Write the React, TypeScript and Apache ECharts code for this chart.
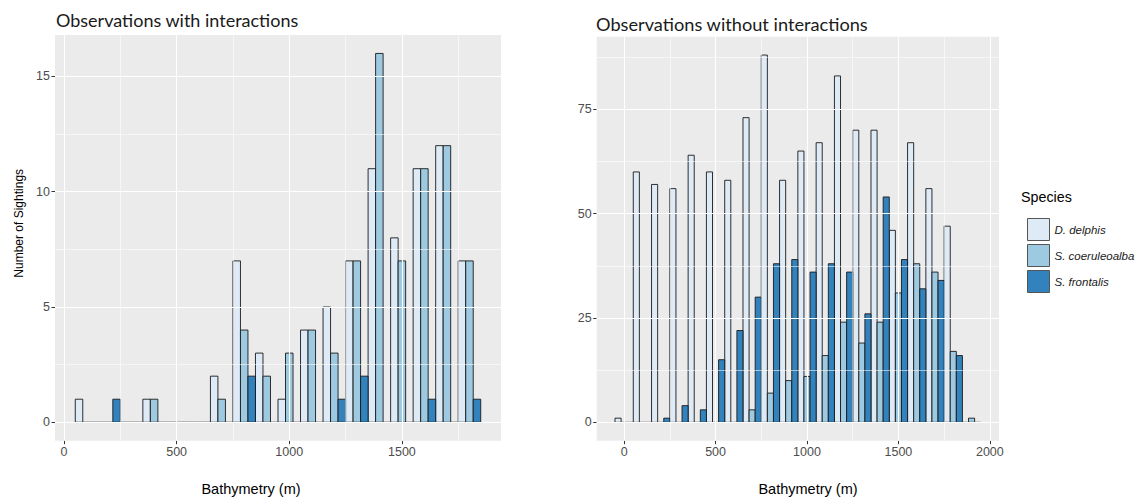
import React, { useEffect, useRef } from "react";
import * as echarts from "echarts";

// ---------- data ----------
const species = ["D. delphis", "S. coeruleoalba", "S. frontalis"];
const speciesColors = ["#DEEBF7", "#9ECAE1", "#3182BD"];

// Observations with interactions (bin centres, 100 m bins)
const binsWith = [100, 200, 300, 400, 500, 600, 700, 800, 900, 1000, 1100, 1200, 1300, 1400, 1500, 1600, 1700, 1800];
const withDelphis = [1, 0, 0, 1, 0, 0, 2, 7, 3, 1, 4, 5, 7, 11, 8, 11, 12, 7];
const withCoeruleoalba = [0, 0, 0, 1, 0, 0, 1, 4, 2, 3, 4, 3, 7, 16, 7, 11, 12, 7];
const withFrontalis = [0, 1, 0, 0, 0, 0, 0, 2, 0, 0, 0, 1, 2, 0, 0, 1, 0, 1];

// Observations without interactions
const binsWithout = [0, 100, 200, 300, 400, 500, 600, 700, 800, 900, 1000, 1100, 1200, 1300, 1400, 1500, 1600, 1700, 1800, 1900];
const withoutDelphis = [1, 60, 57, 56, 64, 60, 58, 73, 88, 58, 65, 67, 83, 70, 70, 46, 67, 56, 47, 0];
const withoutCoeruleoalba = [0, 0, 0, 0, 0, 0, 0, 3, 7, 10, 11, 16, 24, 19, 24, 31, 38, 36, 17, 1];
const withoutFrontalis = [0, 0, 1, 4, 3, 15, 22, 30, 38, 39, 36, 38, 36, 26, 54, 39, 32, 34, 16, 0];

// tick labels
const xTicksWith = [0, 500, 1000, 1500];
const xMinorWith = [250, 750, 1250, 1750];
const yTicksWith = [0, 5, 10, 15];
const yMinorWith = [2.5, 7.5, 12.5];
const xTicksWithout = [0, 500, 1000, 1500, 2000];
const xMinorWithout = [250, 750, 1250, 1750];
const yTicksWithout = [0, 25, 50, 75];
const yMinorWithout = [12.5, 37.5, 62.5, 87.5];

const BIN_WIDTH = 100;
const LABEL_FONT = "Liberation Sans, Arial, sans-serif";
const TITLE_FONT = "Lato, sans-serif";

function barSeries(name: string, idx: number, bins: number[], values: number[], g: number) {
  const sub = BIN_WIDTH / 3;
  return {
    type: "custom",
    name,
    xAxisIndex: g,
    yAxisIndex: g,
    z: 3,
    silent: true,
    clip: false,
    itemStyle: { color: speciesColors[idx], borderColor: "#1a1a1a" },
    data: bins.map((b, i) => [b, values[i]]),
    renderItem: (params: any, api: any) => {
      const c = api.value(0);
      const v = api.value(1);
      const x0 = c - BIN_WIDTH / 2 + idx * sub;
      const x1 = x0 + sub;
      const p0 = api.coord([x0, v]);
      const p1 = api.coord([x1, 0]);
      if (!v) {
        return {
          type: "line",
          shape: { x1: p0[0], y1: p1[1], x2: p1[0], y2: p1[1] },
          style: { stroke: "#1a1a1a", lineWidth: 1 },
        };
      }
      return {
        type: "rect",
        shape: { x: p0[0], y: p0[1], width: p1[0] - p0[0], height: p1[1] - p0[1] },
        style: { fill: speciesColors[idx], stroke: "#1a1a1a", lineWidth: 0.9 },
      };
    },
  };
}

function gridSeries(g: number, xMajor: number[], xMinor: number[], yMajor: number[], yMinor: number[]) {
  const major = { color: "#ffffff", width: 1.1, type: "solid" };
  const minor = { color: "#ffffff", width: 0.55, type: "solid" };
  return {
    type: "line",
    xAxisIndex: g,
    yAxisIndex: g,
    data: [],
    z: 1,
    silent: true,
    markLine: {
      silent: true,
      animation: false,
      symbol: ["none", "none"],
      label: { show: false },
      emphasis: { disabled: true },
      data: [
        ...xMinor.map((v) => ({ xAxis: v, lineStyle: minor })),
        ...yMinor.map((v) => ({ yAxis: v, lineStyle: minor })),
        ...xMajor.map((v) => ({ xAxis: v, lineStyle: major })),
        ...yMajor.map((v) => ({ yAxis: v, lineStyle: major })),
      ],
    },
  };
}

function valueAxis(g: number, min: number, max: number, ticks: number[]) {
  return {
    type: "value",
    gridIndex: g,
    min,
    max,
    splitLine: { show: false },
    axisLine: { show: true, onZero: false, lineStyle: { color: "#333333", opacity: 0 } },
    axisTick: {
      show: true,
      customValues: ticks,
      length: 3.5,
      lineStyle: { color: "#333333", width: 1, opacity: 1 },
    },
    axisLabel: {
      customValues: ticks,
      color: "#4D4D4D",
      fontSize: 12.5,
      fontFamily: LABEL_FONT,
      margin: 5,
      formatter: (v: number) => (ticks.indexOf(v) >= 0 ? String(v) : ""),
    },
  };
}

export default function App() {
  const ref = useRef<HTMLDivElement>(null);

  useEffect(() => {
    document.body.style.margin = "0";
    if (!ref.current) return;
    const chart = echarts.init(ref.current, undefined, { renderer: "svg" });

    const option: any = {
      animation: false,
      backgroundColor: "#ffffff",
      grid: [
        { left: 55, top: 35, width: 446, height: 405.7, show: true, backgroundColor: "#EBEBEB", borderWidth: 0 },
        { left: 596.7, top: 36.7, width: 402.3, height: 404, show: true, backgroundColor: "#EBEBEB", borderWidth: 0 },
      ],
      xAxis: [valueAxis(0, -40, 1940, xTicksWith), valueAxis(1, -150, 2050, xTicksWithout)],
      yAxis: [valueAxis(0, -0.8, 16.8, yTicksWith), valueAxis(1, -4.4, 92.4, yTicksWithout)],
      legend: {
        orient: "vertical",
        left: 1022,
        top: 213,
        itemWidth: 22,
        itemHeight: 22,
        itemGap: 3,
        icon: "rect",
        selectedMode: false,
        textStyle: {
          fontStyle: "italic",
          fontSize: 11.5,
          color: "#1a1a1a",
          fontFamily: LABEL_FONT,
        },
        data: species.map((s, i) => ({
          name: s,
          itemStyle: { color: speciesColors[i], borderColor: "#555555", borderWidth: 1 },
        })),
      },
      graphic: [
        {
          type: "text",
          silent: true,
          style: { x: 56, y: 19.5, text: "Observations with interactions", font: `18px ${TITLE_FONT}`, fill: "#1a1a1a", verticalAlign: "middle", align: "left" },
        },
        {
          type: "text",
          silent: true,
          style: { x: 596, y: 23.8, text: "Observations without interactions", font: `18.2px ${TITLE_FONT}`, fill: "#1a1a1a", verticalAlign: "middle", align: "left" },
        },
        {
          type: "text",
          silent: true,
          style: { x: 251, y: 489, text: "Bathymetry (m)", font: `14.5px ${LABEL_FONT}`, fill: "#000000", verticalAlign: "middle", align: "center" },
        },
        {
          type: "text",
          silent: true,
          style: { x: 808, y: 489, text: "Bathymetry (m)", font: `14.5px ${LABEL_FONT}`, fill: "#000000", verticalAlign: "middle", align: "center" },
        },
        {
          type: "text",
          silent: true,
          x: 19,
          y: 223.3,
          rotation: Math.PI / 2,
          style: { x: 0, y: 0, text: "Number of Sightings", font: `12px ${LABEL_FONT}`, fill: "#000000", verticalAlign: "middle", align: "center" },
        },
        {
          type: "text",
          silent: true,
          style: { x: 1021, y: 197, text: "Species", font: `14.3px ${LABEL_FONT}`, fill: "#000000", verticalAlign: "middle", align: "left" },
        },
      ],
      series: [
        gridSeries(0, xTicksWith, xMinorWith, yTicksWith, yMinorWith),
        gridSeries(1, xTicksWithout, xMinorWithout, yTicksWithout, yMinorWithout),
        barSeries(species[0], 0, binsWith, withDelphis, 0),
        barSeries(species[1], 1, binsWith, withCoeruleoalba, 0),
        barSeries(species[2], 2, binsWith, withFrontalis, 0),
        barSeries(species[0], 0, binsWithout, withoutDelphis, 1),
        barSeries(species[1], 1, binsWithout, withoutCoeruleoalba, 1),
        barSeries(species[2], 2, binsWithout, withoutFrontalis, 1),
      ],
    };

    chart.setOption(option);
    return () => chart.dispose();
  }, []);

  return <div ref={ref} style={{ width: 1137, height: 499 }} />;
}
